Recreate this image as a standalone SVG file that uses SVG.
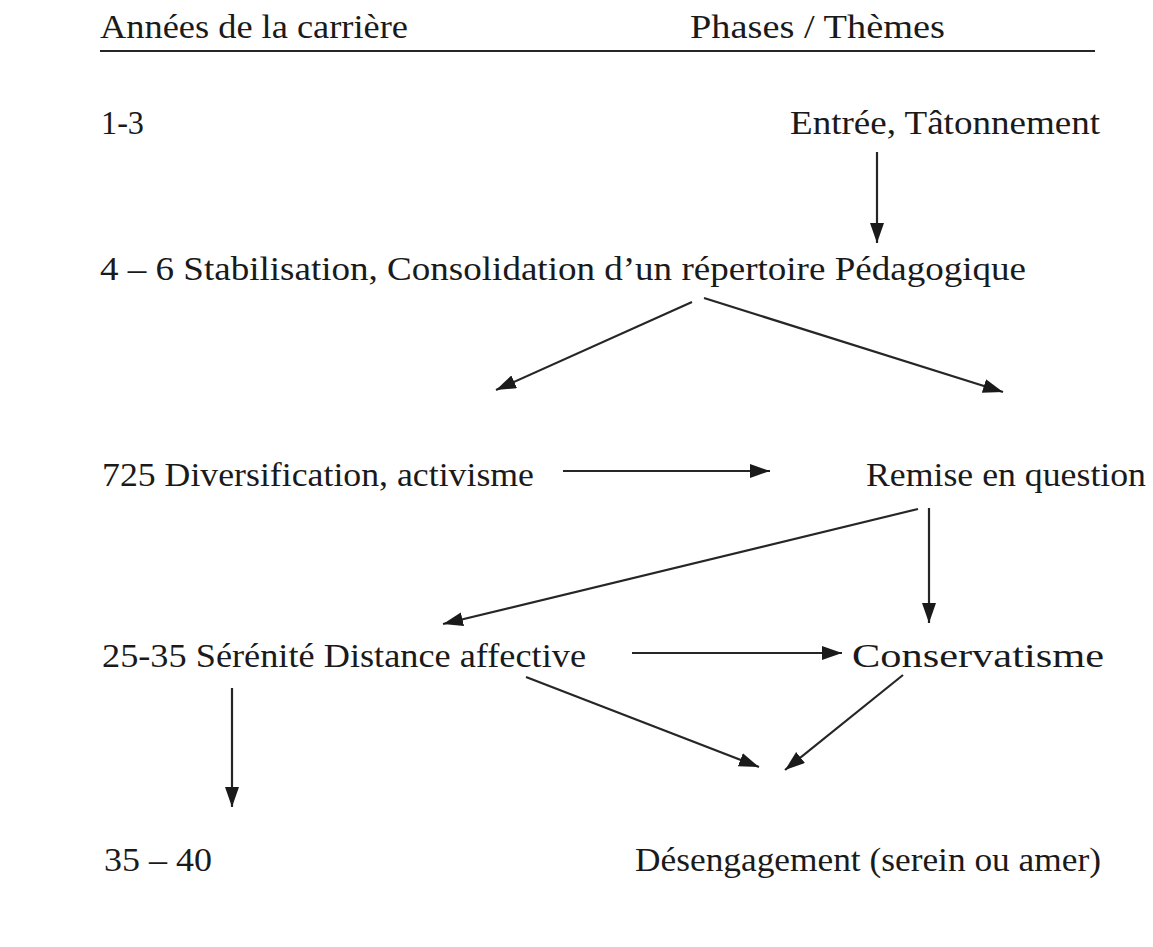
<svg xmlns="http://www.w3.org/2000/svg" width="1153" height="947" viewBox="0 0 1153 947">
<defs>
<style>
text{font-family:"Liberation Serif","Times New Roman",serif;font-size:34px;fill:#1a1a1a}
.c line{stroke:#262626;stroke-width:2.2;marker-end:url(#ah)}
</style>
<marker id="ah" markerUnits="userSpaceOnUse" markerWidth="22" markerHeight="16" refX="20" refY="7" orient="auto" viewBox="0 0 22 16">
<path d="M0,0 L20,7 L0,14 z" fill="#1a1a1a"/>
</marker>
</defs>
<rect width="1153" height="947" fill="#ffffff"/>
<g id="header">
<text x="100" y="38" textLength="308" lengthAdjust="spacingAndGlyphs">Années de la carrière</text>
<text x="690" y="38" textLength="255" lengthAdjust="spacingAndGlyphs">Phases / Thèmes</text>
<line x1="100" y1="51" x2="1095" y2="51" stroke="#262626" stroke-width="2"/>
</g>
<g id="y1"><text x="101" y="134" textLength="43" lengthAdjust="spacingAndGlyphs">1-3</text></g>
<g id="entree"><text x="790" y="134" textLength="310" lengthAdjust="spacingAndGlyphs">Entrée, Tâtonnement</text></g>
<g id="stabilisation"><text x="100" y="280" textLength="926" lengthAdjust="spacingAndGlyphs">4 – 6 Stabilisation, Consolidation d’un répertoire Pédagogique</text></g>
<g id="diversification"><text x="102" y="486" textLength="432" lengthAdjust="spacingAndGlyphs">725 Diversification, activisme</text></g>
<g id="remise"><text x="866" y="486" textLength="280" lengthAdjust="spacingAndGlyphs">Remise en question</text></g>
<g id="serenite"><text x="102" y="667" textLength="484" lengthAdjust="spacingAndGlyphs">25-35 Sérénité Distance affective</text></g>
<g id="conservatisme"><text x="852" y="667" textLength="252" lengthAdjust="spacingAndGlyphs">Conservatisme</text></g>
<g id="y35"><text x="104" y="871" textLength="108" lengthAdjust="spacingAndGlyphs">35 – 40</text></g>
<g id="desengagement"><text x="635" y="871" textLength="466" lengthAdjust="spacingAndGlyphs">Désengagement (serein ou amer)</text></g>
<g id="connectors" class="c">
<line x1="877" y1="152" x2="877" y2="243"/>
<line x1="692" y1="302" x2="496" y2="390"/>
<line x1="704" y1="298" x2="1003" y2="392"/>
<line x1="563" y1="471" x2="770" y2="471"/>
<line x1="918" y1="509" x2="443" y2="624"/>
<line x1="929" y1="508" x2="929" y2="623"/>
<line x1="632" y1="653" x2="842" y2="653"/>
<line x1="526" y1="677" x2="759" y2="767"/>
<line x1="903" y1="675" x2="785" y2="770"/>
<line x1="232" y1="688" x2="232" y2="807"/>
</g>
</svg>
